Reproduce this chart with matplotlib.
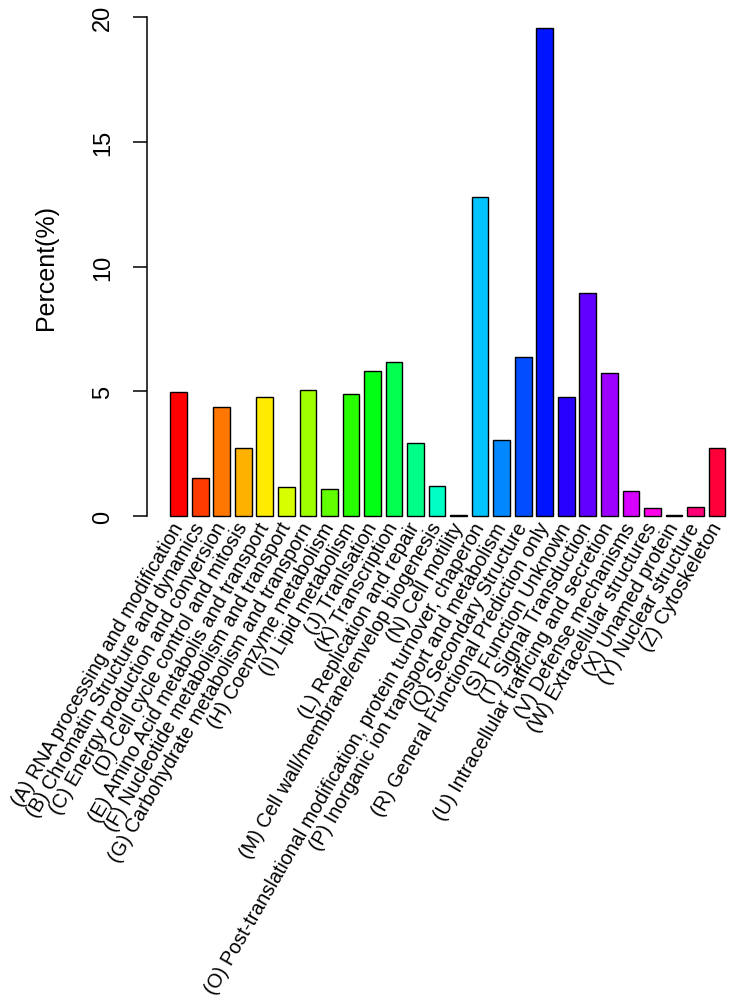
import numpy as np
import matplotlib
matplotlib.use("Agg")
import matplotlib.pyplot as plt
from matplotlib.colors import hsv_to_rgb

plt.rcParams['font.family'] = ['Liberation Sans', 'DejaVu Sans']

labels = [
    "(A) RNA processing and modification",
    "(B) Chromatin Structure and dynamics",
    "(C) Energy production and conversion",
    "(D) Cell cycle control and mitosis",
    "(E) Amino Acid metabolis and transport",
    "(F) Nucleotide metabolism and transport",
    "(G) Carbohydrate metabolism and transporn",
    "(H) Coenzyme metabolism",
    "(I) Lipid metabolism",
    "(J) Tranlsation",
    "(K) Transcription",
    "(L) Replication and repair",
    "(M) Cell wall/membrane/envelop biogenesis",
    "(N) Cell motility",
    "(O) Post-translational modification, protein turnover, chaperon",
    "(P) Inorganic ion transport and metabolism",
    "(Q) Secondary Structure",
    "(R) General Functional Prediction only",
    "(S) Function Unknown",
    "(T) Signal Transduction",
    "(U) Intracellular trafficing and secretion",
    "(V) Defense mechanisms",
    "(W) Extracellular structures",
    "(X) Unamed protein",
    "(Y) Nuclear structure",
    "(Z) Cytoskeleton",
]
percent = [4.97, 1.53, 4.36, 2.72, 4.78, 1.16, 5.07, 1.08, 4.91, 5.80,
           6.18, 2.94, 1.20, 0.05, 12.80, 3.05, 6.39, 19.57, 4.78, 8.95,
           5.73, 1.02, 0.31, 0.03, 0.35, 2.74]

n = len(percent)
# R rainbow() palette
cols = [hsv_to_rgb((i / n, 1, 1)) for i in range(n)]

fig = plt.figure(figsize=(7.33, 10.04), dpi=100)
ax = fig.add_axes([0.2012, 0.4776, 0.7988, 0.5117])

x = np.arange(n)
ax.bar(x, percent, width=0.775, color=cols, edgecolor='black', linewidth=1.0)

ax.set_xlim(-1.446, 25.74)
ax.set_ylim(-0.3, 20.3)

for s in ['top', 'right', 'bottom']:
    ax.spines[s].set_visible(False)
ax.spines['left'].set_bounds(0, 20)
ax.spines['left'].set_linewidth(1.1)

ax.set_yticks([0, 5, 10, 15, 20])
ax.set_yticklabels(['0', '5', '10', '15', '20'], rotation=90, va='center')
ax.tick_params(axis='y', length=10, width=1.1, pad=14, labelsize=17)

ax.set_xticks(x)
ax.set_xticklabels(labels, rotation=60, ha='right', va='center',
                   rotation_mode='anchor', fontsize=14.2)
ax.tick_params(axis='x', length=0, pad=0)

ax.set_ylabel('Percent(%)', fontsize=18)
ax.yaxis.set_label_coords(-0.1522, 0.5)

fig.savefig('out.png', dpi=100)
